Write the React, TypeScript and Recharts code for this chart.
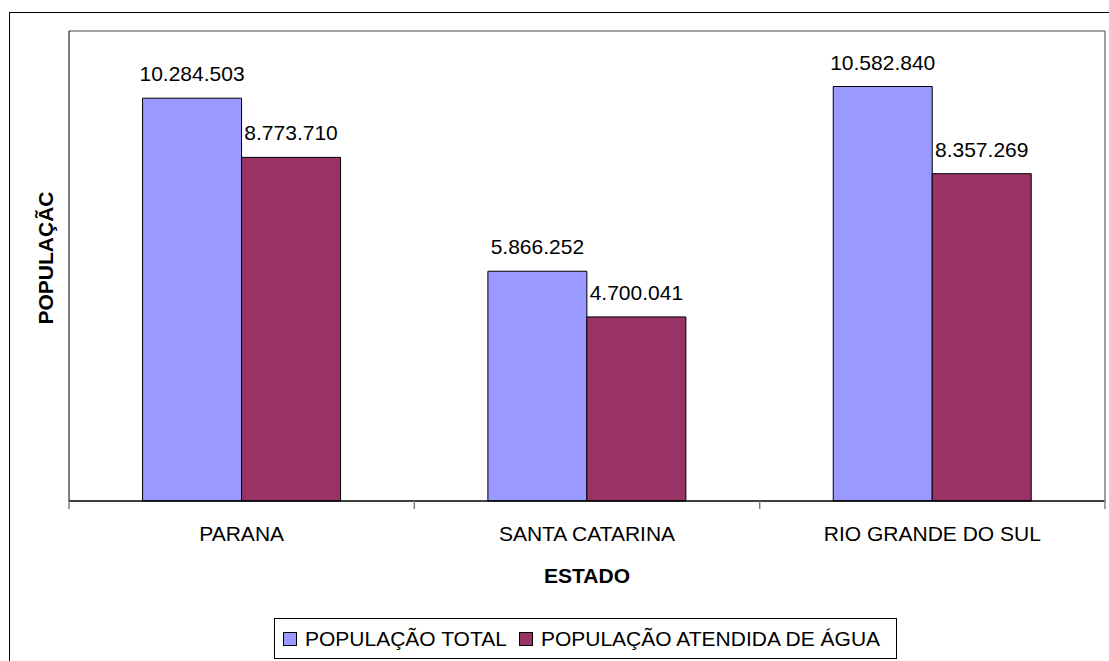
import { BarChart, Bar, XAxis, YAxis, LabelList, ReferenceLine } from 'recharts';

const states = ['PARANA', 'SANTA CATARINA', 'RIO GRANDE DO SUL'];
const populacaoTotal = [10284503, 5866252, 10582840];
const populacaoAtendida = [8773710, 4700041, 8357269];
const seriesNames = ['POPULAÇÃO TOTAL', 'POPULAÇÃO ATENDIDA DE ÁGUA'];
const seriesColors = ['#9999FF', '#993366'];

const data = states.map((estado, i) => ({
  estado,
  total: populacaoTotal[i],
  atendida: populacaoAtendida[i],
}));

// 10284503 -> "10.284.503"
const fmt = (v: number) => String(v).replace(/\B(?=(\d{3})+(?!\d))/g, '.');

const FONT = '"Liberation Sans", Arial, sans-serif';
const FS = 21;

// rótulo da categoria + marcas nos limites de cada faixa
function CategoryTick(props: any) {
  const { x, y, payload, index } = props;
  const half = payload?.offset ?? 172.7;
  const last = index === states.length - 1;
  return (
    <g>
      <line x1={x - half} x2={x - half} y1={y} y2={y + 8} stroke="#808080" strokeWidth={1.5} />
      {last && <line x1={x + half} x2={x + half} y1={y} y2={y + 8} stroke="#808080" strokeWidth={1.5} />}
      <text
        x={x}
        y={y + 32}
        textAnchor="middle"
        dominantBaseline="central"
        style={{ fontSize: FS, fill: '#000', fontFamily: FONT }}
      >
        {payload.value}
      </text>
    </g>
  );
}

export default function App() {
  return (
    <div
      style={{
        position: 'absolute',
        left: 0,
        top: 0,
        width: 1109,
        height: 661,
        overflow: 'hidden',
        background: '#fff',
        fontFamily: FONT,
      }}
    >
      {/* moldura externa */}
      <div
        style={{
          position: 'absolute',
          left: 9,
          top: 12,
          width: 1200,
          height: 700,
          border: '1px solid #000',
        }}
      />
      <BarChart
        width={1109}
        height={661}
        data={data}
        margin={{ top: 31, right: 3, left: 68, bottom: 120 }}
        barCategoryGap="21.3%"
        barGap={0}
        style={{ position: 'absolute', left: 0, top: 0, fontFamily: FONT }}
      >
        <XAxis
          dataKey="estado"
          height={40}
          axisLine={{ stroke: '#000', strokeWidth: 1.5 }}
          tickLine={false}
          tickSize={0}
          tickMargin={0}
          tick={<CategoryTick />}
          label={{
            value: 'ESTADO',
            position: 'bottom',
            offset: 27,
            style: { fontSize: FS, fontWeight: 700, fill: '#000', fontFamily: FONT },
          }}
        />
        <YAxis
          domain={[0, 12000000]}
          width={1}
          tick={false}
          tickLine={false}
          axisLine={{ stroke: '#000', strokeWidth: 1 }}
          label={{
            content: (props: any) => {
              const vb = props.viewBox || {};
              const cx = 45;
              const cy = (vb.y ?? 31) + (vb.height ?? 470) / 2 - 8;
              return (
                <text
                  x={cx}
                  y={cy}
                  transform={`rotate(-90, ${cx}, ${cy})`}
                  textAnchor="middle"
                  dominantBaseline="central"
                  style={{ fontSize: FS, fontWeight: 700, fill: '#000', fontFamily: FONT }}
                >
                  POPULAÇÃC
                </text>
              );
            },
          }}
        />
        <YAxis
          yAxisId="r"
          orientation="right"
          domain={[0, 1]}
          width={1}
          tick={false}
          tickLine={false}
          axisLine={{ stroke: '#808080', strokeWidth: 1.5 }}
        />
        <ReferenceLine y={12000000} stroke="#808080" strokeWidth={1.5} />
        <Bar
          dataKey="total"
          name={seriesNames[0]}
          fill={seriesColors[0]}
          stroke="#000"
          strokeWidth={1}
          isAnimationActive={false}
        >
          <LabelList
            dataKey="total"
            position="top"
            offset={17}
            formatter={(v: any) => fmt(Number(v))}
            style={{ fontSize: FS, fill: '#000', fontFamily: FONT }}
          />
        </Bar>
        <Bar
          dataKey="atendida"
          name={seriesNames[1]}
          fill={seriesColors[1]}
          stroke="#000"
          strokeWidth={1}
          isAnimationActive={false}
        >
          <LabelList
            dataKey="atendida"
            position="top"
            offset={17}
            formatter={(v: any) => fmt(Number(v))}
            style={{ fontSize: FS, fill: '#000', fontFamily: FONT }}
          />
        </Bar>
      </BarChart>
      {/* legenda */}
      <div
        style={{
          position: 'absolute',
          left: 274,
          top: 618,
          width: 623,
          height: 41,
          boxSizing: 'border-box',
          border: '1px solid #000',
          display: 'flex',
          alignItems: 'center',
          paddingLeft: 8,
          fontSize: FS,
          color: '#000',
          whiteSpace: 'nowrap',
        }}
      >
        {seriesNames.map((name, i) => (
          <div key={name} style={{ display: 'flex', alignItems: 'center', marginRight: 12 }}>
            <span
              style={{
                display: 'inline-block',
                width: 14,
                height: 14,
                boxSizing: 'border-box',
                border: '1.5px solid #000',
                background: seriesColors[i],
                marginRight: 8,
              }}
            />
            <span>{name}</span>
          </div>
        ))}
      </div>
    </div>
  );
}
